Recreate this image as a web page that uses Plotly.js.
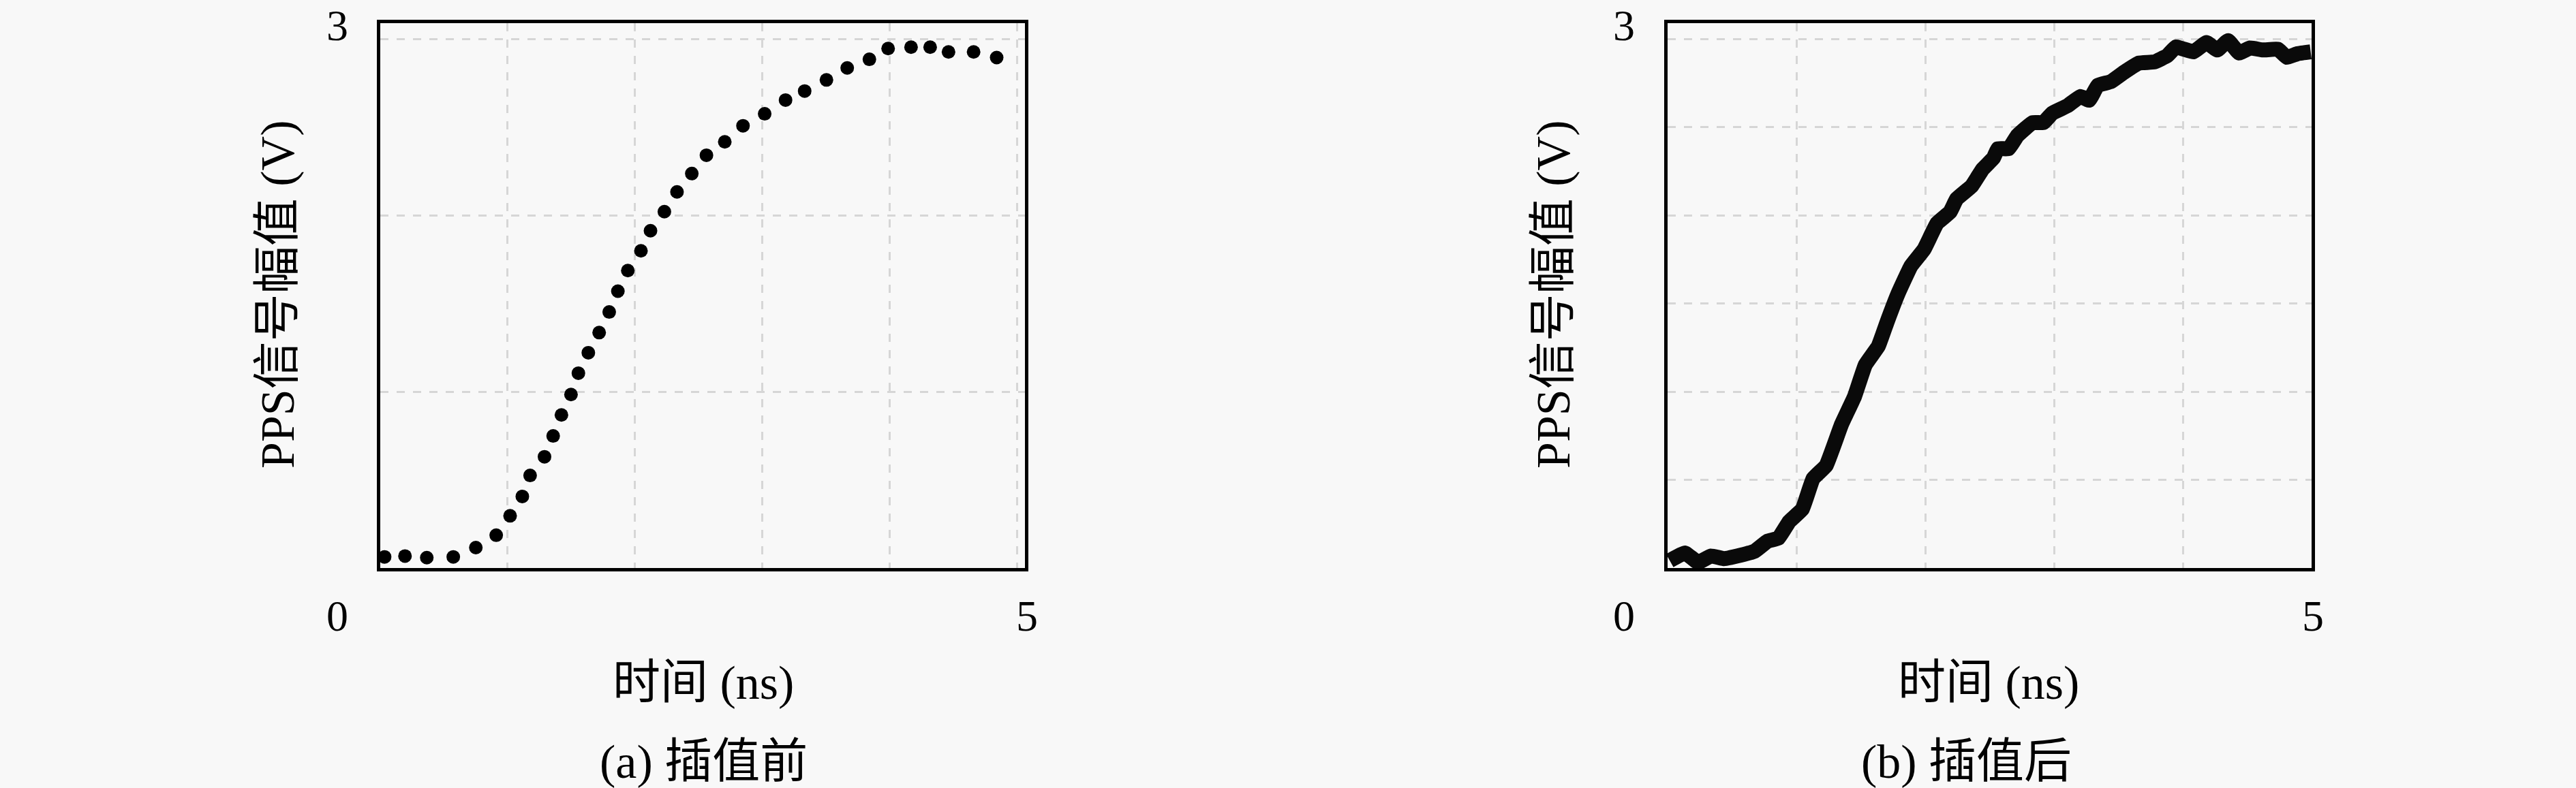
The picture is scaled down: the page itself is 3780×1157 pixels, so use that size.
<!DOCTYPE html>
<html>
<head>
<meta charset="utf-8">
<script src="https://cdn.plot.ly/plotly-3.0.1.min.js"></script>
<style>html,body{margin:0;padding:0;background:#f8f8f8;}#chart{width:3780px;height:1157px;}</style>
</head>
<body>
<div id="chart"></div>
<script>
// (a) before interpolation: sampled points
const timeBefore = [0.034,0.194,0.365,0.573,0.750,0.910,1.019,1.115,1.176,1.289,1.357,1.422,1.497,1.555,1.633,1.718,1.797,1.865,1.943,2.046,2.121,2.230,2.329,2.445,2.560,2.704,2.847,3.017,3.181,3.331,3.502,3.665,3.839,3.986,4.166,4.316,4.460,4.657,4.838];
const ampBefore  = [0.063,0.068,0.059,0.063,0.116,0.186,0.296,0.406,0.525,0.631,0.749,0.868,0.984,1.105,1.221,1.335,1.452,1.570,1.687,1.799,1.913,2.021,2.133,2.237,2.341,2.417,2.508,2.576,2.654,2.705,2.768,2.836,2.885,2.946,2.954,2.954,2.927,2.927,2.895];

// (b) after interpolation: continuous waveform
const timeAfter = [0.017,0.135,0.236,0.337,0.439,0.540,0.675,0.776,0.860,0.945,1.046,1.130,1.231,1.350,1.451,1.535,1.636,1.704,1.788,1.889,1.991,2.092,2.193,2.244,2.362,2.446,2.530,2.564,2.648,2.716,2.834,2.918,2.986,3.104,3.205,3.273,3.340,3.441,3.543,3.661,3.779,3.880,3.947,4.082,4.184,4.268,4.352,4.437,4.521,4.622,4.740,4.808,4.892,4.993];
const ampAfter  = [0.042,0.085,0.032,0.068,0.053,0.068,0.095,0.152,0.169,0.264,0.334,0.507,0.581,0.814,0.972,1.152,1.258,1.395,1.554,1.712,1.807,1.955,2.019,2.093,2.167,2.262,2.325,2.378,2.378,2.452,2.526,2.526,2.579,2.621,2.674,2.653,2.737,2.758,2.811,2.864,2.870,2.906,2.955,2.927,2.980,2.938,2.991,2.921,2.949,2.938,2.942,2.896,2.917,2.927];

// Text
const xTitle = "时间 (ns)";
const yTitle = "PPS信号幅值 (V)";
const captions = ["(a) 插值前", "(b) 插值后"];
const xTickLabels = ["0", "5"];
const yTickLabel = "3";

const W = 3780, H = 1157;
const FONT = "'Liberation Serif', 'Noto Sans CJK SC', serif";
const fsTick = 64;
const fsTitle = 70;
const px = v => v / W;
const py = v => 1 - v / H;

const traces = [
  {x: timeBefore, y: ampBefore, type: 'scatter', mode: 'markers', xaxis: 'x', yaxis: 'y',
   marker: {color: '#000000', size: 20}, showlegend: false, hoverinfo: 'skip'},
  {x: timeAfter, y: ampAfter, type: 'scatter', mode: 'lines', xaxis: 'x2', yaxis: 'y2',
   line: {color: '#0a0a0a', width: 22, shape: 'spline', smoothing: 0.3}, showlegend: false, hoverinfo: 'skip'}
];

const gridStyle = {showgrid: true, gridcolor: '#d6d6d6', gridwidth: 3, griddash: '12px,12px',
  zeroline: false, showticklabels: false, ticks: '', showline: true, linecolor: '#000000',
  linewidth: 5, mirror: true, fixedrange: true};

const ann = (text, x, y, size, opts) => Object.assign({text: text, x: px(x), y: py(y), xref: 'paper', yref: 'paper',
  xanchor: 'center', yanchor: 'middle', showarrow: false, font: {family: FONT, size: size, color: '#000000'}}, opts || {});

const annotations = [
  // panel (a)
  ann(yTickLabel, 495, 38, fsTick),
  ann(xTickLabels[0], 495, 904, fsTick),
  ann(xTickLabels[1], 1507, 904, fsTick),
  ann(xTitle, 1032, 1002, fsTitle),
  ann(captions[0], 1032, 1118, fsTitle),
  ann(yTitle, 407, 433, fsTitle, {textangle: -90}),
  // panel (b)
  ann(yTickLabel, 2383, 38, fsTick),
  ann(xTickLabels[0], 2383, 904, fsTick),
  ann(xTickLabels[1], 3394, 904, fsTick),
  ann(xTitle, 2918, 1002, fsTitle),
  ann(captions[1], 2885, 1118, fsTitle),
  ann(yTitle, 2279, 433, fsTitle, {textangle: -90})
];

const layout = {
  width: W, height: H,
  margin: {l: 0, r: 0, t: 0, b: 0},
  paper_bgcolor: '#f8f8f8', plot_bgcolor: '#f8f8f8',
  showlegend: false,
  xaxis:  Object.assign({}, gridStyle, {domain: [px(558), px(1504)], range: [0, 5.06], dtick: 1, tick0: 0, anchor: 'y'}),
  yaxis:  Object.assign({}, gridStyle, {domain: [py(834), py(34)], range: [0, 3.09], dtick: 1, tick0: 0, anchor: 'x'}),
  xaxis2: Object.assign({}, gridStyle, {domain: [px(2447), px(3392)], range: [0, 5], dtick: 1, tick0: 0, anchor: 'y2'}),
  yaxis2: Object.assign({}, gridStyle, {domain: [py(834), py(34)], range: [0, 3.09], dtick: 0.5, tick0: 0, anchor: 'x2'}),
  annotations: annotations
};

Plotly.newPlot('chart', traces, layout, {staticPlot: true, displayModeBar: false});
</script>
</body>
</html>
